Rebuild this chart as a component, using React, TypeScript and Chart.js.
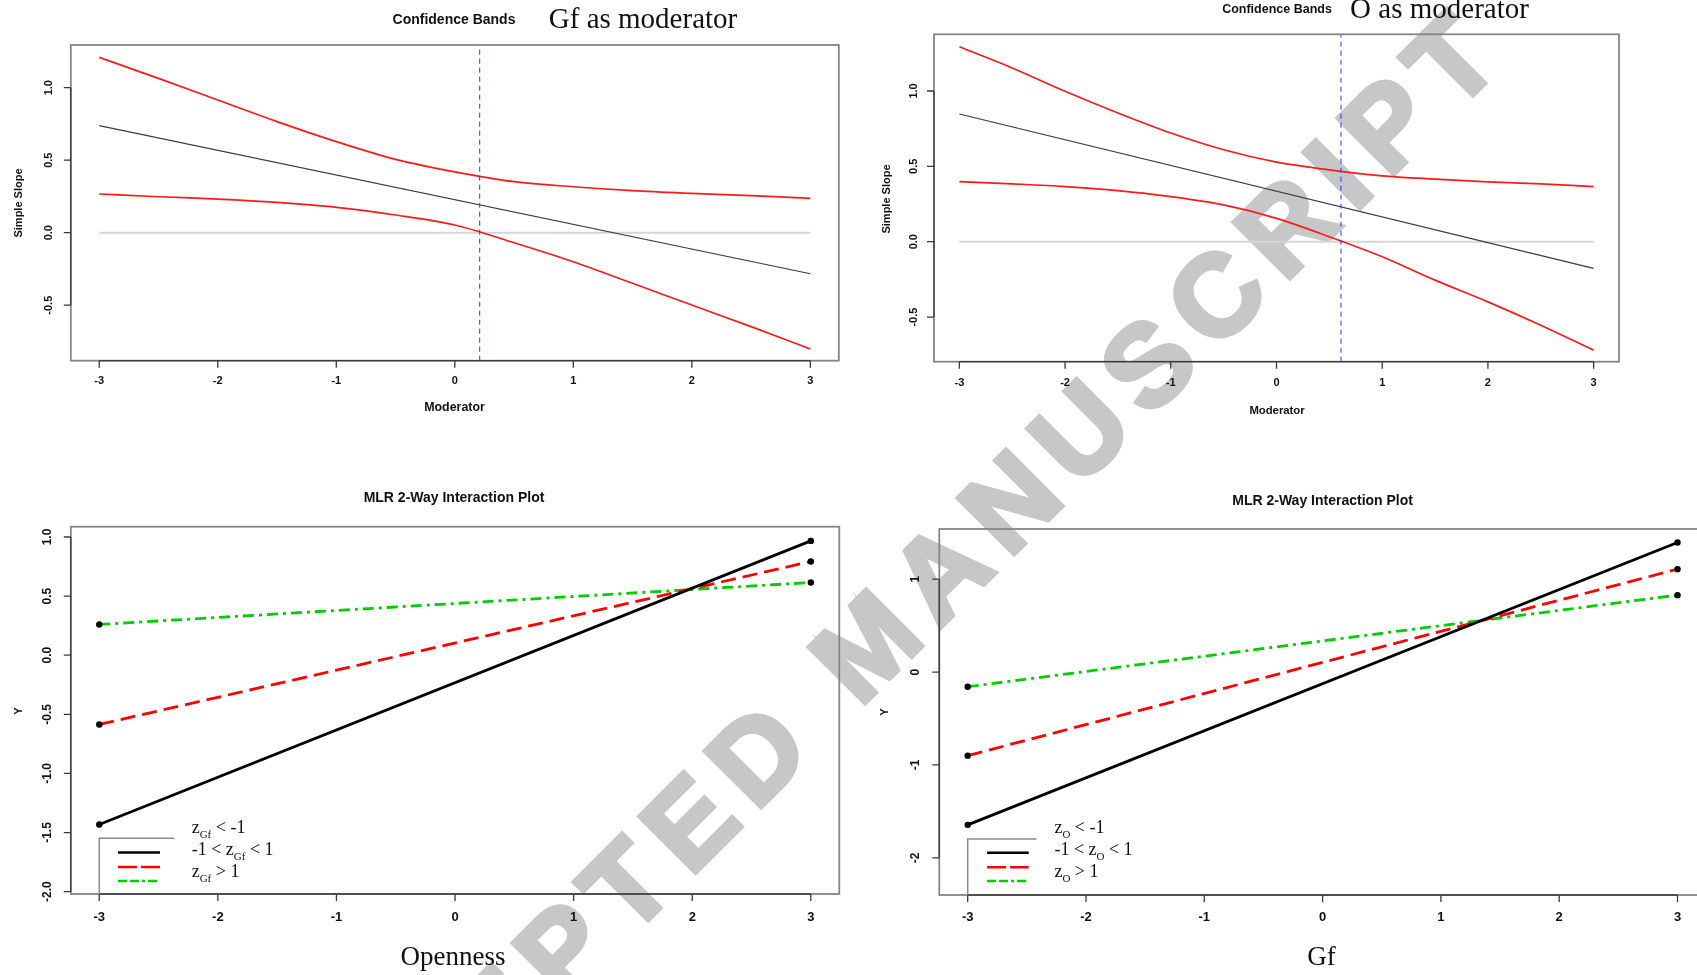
import React, { useEffect, useRef } from "react";
import { Chart, registerables } from "chart.js";

Chart.register(...registerables);

const W = 1697;
const H = 975;
const CW = 1760;
const SANS = "'Liberation Sans', Arial, sans-serif";
const SERIF = "'Liberation Serif', 'Times New Roman', serif";

// ---------------- data ----------------
// Confidence bands, Gf as moderator
const gfModX = [-3, -2.5, -2, -1.5, -1, -0.5, 0, 0.5, 1, 1.5, 2, 2.5, 3];
const gfUpper = [1.209, 1.064, 0.915, 0.766, 0.628, 0.506, 0.42, 0.352, 0.317, 0.29, 0.271, 0.255, 0.237];
const gfLower = [0.267, 0.248, 0.232, 0.209, 0.175, 0.122, 0.053, -0.069, -0.2, -0.349, -0.499, -0.648, -0.802];
const gfSlopeX = [-3, 3];
const gfSlope = [0.738, -0.283];
const gfJN = 0.21;

// Confidence bands, O as moderator
const oModX = [-3, -2.5, -2, -1.5, -1, -0.5, 0, 0.5, 1, 1.5, 2, 2.5, 3];
const oUpper = [1.293, 1.153, 0.998, 0.854, 0.721, 0.61, 0.528, 0.477, 0.437, 0.415, 0.397, 0.384, 0.366];
const oLower = [0.399, 0.384, 0.366, 0.339, 0.299, 0.244, 0.155, 0.033, -0.1, -0.255, -0.399, -0.554, -0.72];
const oSlopeX = [-3, 3];
const oSlope = [0.847, -0.177];
const oJN = 0.61;

const zeroX = [-3, 3];
const zeroY = [0, 0];

// Interaction plot: Openness on x, Gf moderator
const openX = [-3, 3];
const openLow = [-1.432, 0.967];
const openMid = [-0.586, 0.793];
const openHigh = [0.26, 0.615];

// Interaction plot: Gf on x, O moderator
const gfX = [-3, 3];
const gfAxLow = [-1.645, 1.395];
const gfAxMid = [-0.9, 1.108];
const gfAxHigh = [-0.158, 0.828];

// ticks
const xTicks = [-3, -2, -1, 0, 1, 2, 3];
const bandYTicks = [-0.5, 0, 0.5, 1];
const openYTicks = [-2, -1.5, -1, -0.5, 0, 0.5, 1];
const gfYTicks = [-2, -1, 0, 1];

// legend rows: [before subscript, subscript, after]
const gfLegend = [
  ["z", "Gf", " < -1"],
  ["-1 < z", "Gf", " < 1"],
  ["z", "Gf", " > 1"],
];
const oLegend = [
  ["z", "O", " < -1"],
  ["-1 < z", "O", " < 1"],
  ["z", "O", " > 1"],
];

const WATERMARK = "ACCEPTED MANUSCRIPT";

// ---------------- helpers ----------------
const pts = (xs: number[], ys: number[]) => xs.map((x, i) => ({ x, y: ys[i] }));

type TextItem = {
  s: string;
  x: number;
  y: number;
  font: string;
  rot?: number;
  baseline?: CanvasTextBaseline;
};

type Legend = {
  rows: string[][];
  top: number;
  boxW: number;
  sampleX0: number;
  sampleX1: number;
  sampleY: number[];
  textX: number;
  textY: number[];
};

type Panel = {
  box: [number, number, number, number];
  yRange: [number, number];
  yTicks: number[];
  yDigits: number;
  xTickFont: string;
  xTickDy: number;
  yTickFont: string;
  yTickDx: number;
  datasets: () => any[];
  texts: TextItem[];
  legend?: Legend;
};

function drawText(ctx: CanvasRenderingContext2D, t: TextItem) {
  ctx.save();
  ctx.translate(t.x, t.y);
  if (t.rot) ctx.rotate(t.rot);
  ctx.font = t.font;
  ctx.textAlign = "center";
  ctx.textBaseline = t.baseline || "alphabetic";
  ctx.fillStyle = "#111";
  ctx.fillText(t.s, 0, 0);
  ctx.restore();
}

function makePlugin(p: Panel) {
  return {
    id: "rstyle",
    afterDraw(chart: any) {
      const ctx: CanvasRenderingContext2D = chart.ctx;
      const a = chart.chartArea;
      const xs = chart.scales.x;
      const ys = chart.scales.y;
      ctx.save();
      ctx.strokeStyle = "#858585";
      ctx.lineWidth = 1.8;
      ctx.strokeRect(a.left, a.top, a.right - a.left, a.bottom - a.top);
      ctx.strokeStyle = "#3a3a3a";
      ctx.lineWidth = 1.3;
      ctx.beginPath();
      const x0 = xs.getPixelForValue(xTicks[0]);
      const x1 = xs.getPixelForValue(xTicks[xTicks.length - 1]);
      ctx.moveTo(x0, a.bottom);
      ctx.lineTo(x1, a.bottom);
      xTicks.forEach((v) => {
        const px = xs.getPixelForValue(v);
        ctx.moveTo(px, a.bottom);
        ctx.lineTo(px, a.bottom + 7);
      });
      const y0 = ys.getPixelForValue(p.yTicks[0]);
      const y1 = ys.getPixelForValue(p.yTicks[p.yTicks.length - 1]);
      ctx.moveTo(a.left, y0);
      ctx.lineTo(a.left, y1);
      p.yTicks.forEach((v) => {
        const py = ys.getPixelForValue(v);
        ctx.moveTo(a.left, py);
        ctx.lineTo(a.left - 7, py);
      });
      ctx.stroke();
      xTicks.forEach((v) => {
        drawText(ctx, {
          s: String(v),
          x: xs.getPixelForValue(v),
          y: a.bottom + p.xTickDy,
          font: p.xTickFont,
          baseline: "middle",
        });
      });
      p.yTicks.forEach((v) => {
        drawText(ctx, {
          s: v.toFixed(p.yDigits),
          x: a.left - p.yTickDx,
          y: ys.getPixelForValue(v),
          font: p.yTickFont,
          rot: -Math.PI / 2,
          baseline: "middle",
        });
      });
      p.texts.forEach((t) => drawText(ctx, t));
      const lg = p.legend;
      if (lg) {
        const lx = xs.getPixelForValue(-3);
        ctx.strokeStyle = "#8a8a8a";
        ctx.lineWidth = 1.5;
        ctx.beginPath();
        ctx.moveTo(lx + lg.boxW, lg.top);
        ctx.lineTo(lx, lg.top);
        ctx.lineTo(lx, a.bottom);
        ctx.stroke();
        const styles = [
          { c: "#000000", d: [] as number[] },
          { c: "#ff0000", d: [19, 4] },
          { c: "#00cc00", d: [9, 3, 9, 3, 3, 3] },
        ];
        styles.forEach((s, i) => {
          ctx.strokeStyle = s.c;
          ctx.lineWidth = 2.6;
          ctx.setLineDash(s.d);
          ctx.beginPath();
          ctx.moveTo(lx + lg.sampleX0, lg.sampleY[i]);
          ctx.lineTo(lx + lg.sampleX1, lg.sampleY[i]);
          ctx.stroke();
        });
        ctx.setLineDash([]);
        ctx.fillStyle = "#111";
        ctx.textAlign = "left";
        ctx.textBaseline = "alphabetic";
        lg.rows.forEach((r, i) => {
          let cx = lx + lg.textX;
          const by = lg.textY[i];
          ctx.font = `18px ${SERIF}`;
          ctx.fillText(r[0], cx, by);
          cx += ctx.measureText(r[0]).width;
          ctx.font = `11px ${SERIF}`;
          ctx.fillText(r[1], cx, by + 4.5);
          cx += ctx.measureText(r[1]).width;
          ctx.font = `18px ${SERIF}`;
          ctx.fillText(r[2], cx, by);
        });
      }
      ctx.restore();
    },
  };
}

function bandDatasets(
  mx: number[], up: number[], lo: number[], sx: number[], sl: number[], jn: number, yr: [number, number]
) {
  return [
    { data: pts([jn, jn], yr), borderColor: "#3030ff", borderWidth: 1, borderDash: [5, 4], pointRadius: 0 },
    { data: pts(sx, sl), borderColor: "#3c3c3c", borderWidth: 1.2, pointRadius: 0 },
    { data: pts(mx, up), borderColor: "#ff1a1a", borderWidth: 1.7, pointRadius: 0, cubicInterpolationMode: "monotone" },
    { data: pts(mx, lo), borderColor: "#ff1a1a", borderWidth: 1.7, pointRadius: 0, cubicInterpolationMode: "monotone" },
    { data: pts(zeroX, zeroY), borderColor: "#d6d6d6", borderWidth: 2, pointRadius: 0 },
  ];
}

function interDatasets(xv: number[], lo: number[], mid: number[], hi: number[]) {
  const pt = { pointRadius: 3.2, pointBackgroundColor: "#000", pointBorderWidth: 0, pointHoverRadius: 3.2 };
  return [
    { data: pts(xv, lo), borderColor: "#000000", borderWidth: 2.8, ...pt },
    { data: pts(xv, mid), borderColor: "#ff0000", borderWidth: 2.8, borderDash: [15, 7], ...pt },
    { data: pts(xv, hi), borderColor: "#00cc00", borderWidth: 2.8, borderDash: [11, 5, 3, 5], ...pt },
  ];
}

const tlY: [number, number] = [-0.8828, 1.2945];
const trY: [number, number] = [-0.796, 1.376];
const blY: [number, number] = [-2.02, 1.087];
const brY: [number, number] = [-2.4, 1.54];

const panels: Panel[] = [
  {
    box: [70.8, 45, 838.8, 360.7],
    yRange: tlY,
    yTicks: bandYTicks,
    yDigits: 1,
    xTickFont: `bold 11px ${SANS}`,
    xTickDy: 20.5,
    yTickFont: `bold 11px ${SANS}`,
    yTickDx: 22,
    datasets: () => bandDatasets(gfModX, gfUpper, gfLower, gfSlopeX, gfSlope, gfJN, tlY),
    texts: [
      { s: "Confidence Bands", x: 454, y: 24, font: `bold 14px ${SANS}` },
      { s: "Gf as moderator", x: 643, y: 28, font: `29px ${SERIF}` },
      { s: "Moderator", x: 454.5, y: 411, font: `bold 12.4px ${SANS}` },
      { s: "Simple Slope", x: 19, y: 203, font: `bold 11px ${SANS}`, rot: -Math.PI / 2, baseline: "middle" },
    ],
  },
  {
    box: [934, 34.3, 1619, 361.7],
    yRange: trY,
    yTicks: bandYTicks,
    yDigits: 1,
    xTickFont: `bold 11px ${SANS}`,
    xTickDy: 21.5,
    yTickFont: `bold 11px ${SANS}`,
    yTickDx: 20,
    datasets: () => bandDatasets(oModX, oUpper, oLower, oSlopeX, oSlope, oJN, trY),
    texts: [
      { s: "Confidence Bands", x: 1277, y: 13, font: `bold 12.5px ${SANS}` },
      { s: "O as moderator", x: 1439.5, y: 17.5, font: `29px ${SERIF}` },
      { s: "Moderator", x: 1277, y: 413.5, font: `bold 11.3px ${SANS}` },
      { s: "Simple Slope", x: 887, y: 199, font: `bold 11px ${SANS}`, rot: -Math.PI / 2, baseline: "middle" },
    ],
  },
  {
    box: [70.8, 526.7, 839.3, 894],
    yRange: blY,
    yTicks: openYTicks,
    yDigits: 1,
    xTickFont: `bold 13px ${SANS}`,
    xTickDy: 23.7,
    yTickFont: `bold 12px ${SANS}`,
    yTickDx: 23.5,
    datasets: () => interDatasets(openX, openLow, openMid, openHigh),
    texts: [
      { s: "MLR 2-Way Interaction Plot", x: 454, y: 502, font: `bold 14px ${SANS}` },
      { s: "Openness", x: 453, y: 965, font: `27px ${SERIF}` },
      { s: "Y", x: 19, y: 711, font: `bold 11px ${SANS}`, rot: -Math.PI / 2, baseline: "middle" },
    ],
    legend: {
      rows: gfLegend,
      top: 838.3,
      boxW: 74.7,
      sampleX0: 18.7,
      sampleX1: 60.7,
      sampleY: [852.5, 867, 881],
      textX: 92.4,
      textY: [833, 855, 877],
    },
  },
  {
    box: [939.3, 529, 1705.9, 895],
    yRange: brY,
    yTicks: gfYTicks,
    yDigits: 0,
    xTickFont: `bold 13px ${SANS}`,
    xTickDy: 22.7,
    yTickFont: `bold 12px ${SANS}`,
    yTickDx: 24,
    datasets: () => interDatasets(gfX, gfAxLow, gfAxMid, gfAxHigh),
    texts: [
      { s: "MLR 2-Way Interaction Plot", x: 1322.6, y: 505, font: `bold 14px ${SANS}` },
      { s: "Gf", x: 1321.5, y: 965, font: `27px ${SERIF}` },
      { s: "Y", x: 885, y: 712, font: `bold 11px ${SANS}`, rot: -Math.PI / 2, baseline: "middle" },
    ],
    legend: {
      rows: oLegend,
      top: 839,
      boxW: 68.7,
      sampleX0: 19.4,
      sampleX1: 61,
      sampleY: [852.7, 867.3, 881],
      textX: 86.7,
      textY: [833, 855, 877],
    },
  },
];

function PanelChart({ panel }: { panel: Panel }) {
  const ref = useRef<HTMLCanvasElement>(null);
  useEffect(() => {
    const [l, t, r, b] = panel.box;
    const chart = new Chart(ref.current as HTMLCanvasElement, {
      type: "line",
      data: { datasets: panel.datasets() },
      options: {
        responsive: false,
        animation: false,
        events: [],
        layout: { padding: { left: l, top: t, right: CW - r, bottom: H - b } },
        scales: {
          x: { type: "linear", min: -3.24, max: 3.24, display: false },
          y: { type: "linear", min: panel.yRange[0], max: panel.yRange[1], display: false },
        },
        plugins: {
          legend: { display: false },
          tooltip: { enabled: false },
        },
      },
      plugins: [makePlugin(panel)],
    } as any);
    return () => chart.destroy();
  }, [panel]);
  return (
    <canvas
      ref={ref}
      width={CW}
      height={H}
      style={{ position: "absolute", left: 0, top: 0, width: CW, height: H }}
    />
  );
}

function Watermark() {
  const ref = useRef<HTMLCanvasElement>(null);
  useEffect(() => {
    const c = ref.current as HTMLCanvasElement;
    const ctx = c.getContext("2d") as CanvasRenderingContext2D;
    ctx.clearRect(0, 0, W, H);
    ctx.save();
    ctx.translate(288, 1280);
    ctx.rotate((-45 * Math.PI) / 180);
    ctx.font = `bold 115px ${SANS}`;
    (ctx as any).letterSpacing = "16px";
    ctx.fillStyle = "#c6c7c9";
    ctx.strokeStyle = "#c6c7c9";
    ctx.lineWidth = 5;
    ctx.lineJoin = "miter";
    ctx.textBaseline = "alphabetic";
    ctx.fillText(WATERMARK, 0, 0);
    ctx.strokeText(WATERMARK, 0, 0);
    ctx.restore();
  }, []);
  return (
    <canvas ref={ref} width={W} height={H} style={{ position: "absolute", left: 0, top: 0, width: W, height: H }} />
  );
}

export default function App() {
  return (
    <div
      style={{
        position: "absolute",
        left: 0,
        top: 0,
        width: W,
        height: H,
        overflow: "hidden",
        background: "#ffffff",
      }}
    >
      <Watermark />
      {panels.map((p, i) => (
        <PanelChart key={i} panel={p} />
      ))}
    </div>
  );
}
